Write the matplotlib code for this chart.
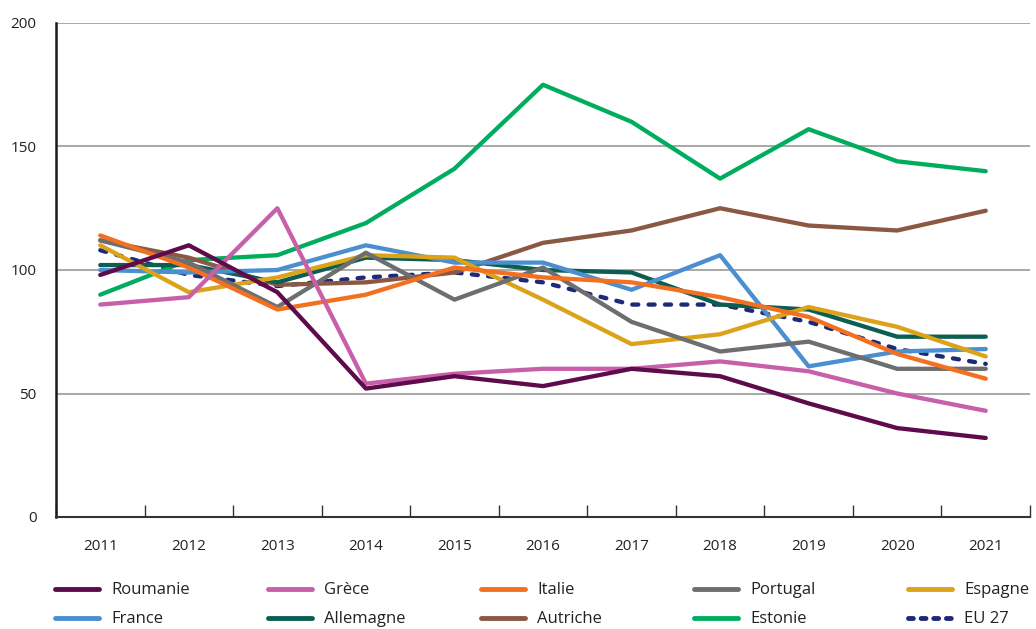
import matplotlib
matplotlib.use('Agg')
import matplotlib.pyplot as plt
from matplotlib.lines import Line2D

years = ['2011', '2012', '2013', '2014', '2015', '2016', '2017', '2018', '2019', '2020', '2021']

roumanie = [98, 110, 91, 52, 57, 53, 60, 57, 46, 36, 32]
grece = [86, 89, 125, 54, 58, 60, 60, 63, 59, 50, 43]
italie = [114, 101, 84, 90, 101, 97, 95, 89, 81, 66, 56]
portugal = [112, 103, 85, 107, 88, 101, 79, 67, 71, 60, 60]
espagne = [110, 91, 97, 106, 105, 88, 70, 74, 85, 77, 65]
france = [100, 99, 100, 110, 103, 103, 92, 106, 61, 67, 68]
allemagne = [102, 102, 95, 105, 104, 100, 99, 86, 84, 73, 73]
autriche = [112, 105, 94, 95, 99, 111, 116, 125, 118, 116, 124]
estonie = [90, 104, 106, 119, 141, 175, 160, 137, 157, 144, 140]
eu27 = [108, 98, 93.5, 97, 99, 95, 86, 86, 79, 68, 62]

series = [
    ('Roumanie', roumanie, '#5e0b4c'),
    ('Grèce', grece, '#c75fa9'),
    ('Italie', italie, '#f37021'),
    ('Portugal', portugal, '#6d6e70'),
    ('Espagne', espagne, '#dba21a'),
    ('France', france, '#4b8fd1'),
    ('Allemagne', allemagne, '#0d5e52'),
    ('Autriche', autriche, '#8b5843'),
    ('Estonie', estonie, '#00ad5f'),
    ('EU 27', eu27, '#1e2a78'),
]

plt.rcParams['font.family'] = ['Open Sans', 'DejaVu Sans']

fig = plt.figure(figsize=(10.36, 6.29), dpi=100)
ax = fig.add_axes([56 / 1036, 1 - 517 / 629, 974 / 1036, 494 / 629])

x = list(range(len(years)))
n = len(series)
for i, (name, vals, col) in enumerate(series):
    # first series on top, as in the original
    if name == 'EU 27':
        ax.plot(x, vals, color=col, lw=3.1, linestyle=(0, (1.4, 2.4)),
                dash_capstyle='round', zorder=3 + n - i)
    else:
        ax.plot(x, vals, color=col, lw=3.1, solid_capstyle='round',
                zorder=3 + n - i)

ax.set_xlim(-0.5, len(years) - 0.5)
ax.set_ylim(0, 200)
ax.set_yticks([0, 50, 100, 150, 200])
ax.yaxis.grid(True, color='#9a9a9a', lw=1.2)
ax.set_axisbelow(True)
ax.tick_params(axis='y', length=0, pad=14, labelsize=11, labelcolor='#222222')

ax.set_xticks(x)
ax.set_xticklabels(years)
ax.set_xticks([i - 0.5 for i in range(len(years) + 1)], minor=True)
ax.tick_params(axis='x', which='major', length=0, pad=16, labelsize=11, labelcolor='#222222')
ax.tick_params(axis='x', which='minor', direction='in', length=9, width=1, color='#333333')

for s in ['top', 'right']:
    ax.spines[s].set_visible(False)
ax.spines['left'].set_linewidth(1.8)
ax.spines['left'].set_color('#1a1a1a')
ax.spines['bottom'].set_linewidth(1.5)
ax.spines['bottom'].set_color('#333333')

# legend: 5 columns, 2 rows
col_x = [47, 260, 473, 686, 900]
for c in range(5):
    hs = []
    labs = []
    for r in range(2):
        name, vals, col = series[r * 5 + c]
        if name == 'EU 27':
            h = Line2D([], [], color=col, lw=3.5, linestyle=(0, (1.0, 1.6)),
                       dash_capstyle='round')
        else:
            h = Line2D([], [], color=col, lw=3.5, solid_capstyle='round')
        hs.append(h)
        labs.append(name)
    leg = fig.legend(hs, labs, loc='upper left',
                     bbox_to_anchor=(col_x[c] / 1036, 1 - 574 / 629),
                     frameon=False, fontsize=12, handlelength=2.6,
                     handletextpad=0.75, labelspacing=0.78, borderpad=0)
    for t in leg.get_texts():
        t.set_color('#222222')

plt.savefig('out.png', dpi=100)
